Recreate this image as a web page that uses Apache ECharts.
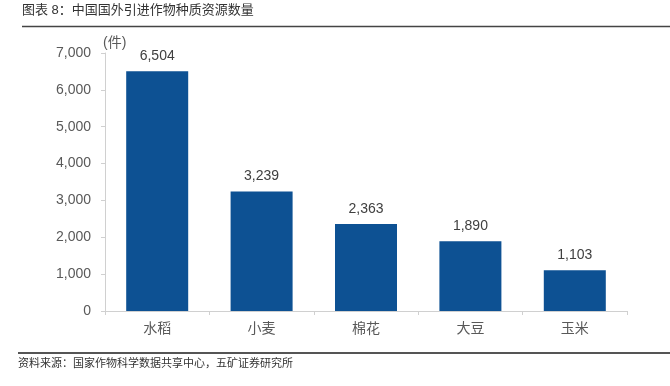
<!DOCTYPE html>
<html><head><meta charset="utf-8">
<script src="https://cdn.jsdelivr.net/npm/echarts@6/dist/echarts.min.js"></script>
<style>html,body{margin:0;padding:0;background:#fff}#c{width:670px;height:386px}</style>
</head><body><div id="c"></div>
<script>
const categories = ['水稻','小麦','棉花','大豆','玉米'];
const values = [6504, 3239, 2363, 1890, 1103];
const yTicks = {min:0, max:7000, interval:1000};
const titleText = '图表 8：中国国外引进作物种质资源数量';
const sourceText = '资料来源：国家作物科学数据共享中心，五矿证券研究所';
const unitText = '(件)';

const fmt = v => String(v).replace(/\B(?=(\d{3})+(?!\d))/g, ',');
const chart = echarts.init(document.getElementById('c'), null, {renderer:'canvas'});
const ff = '"Liberation Sans", "Noto Sans CJK SC", sans-serif';
chart.setOption({
  animation:false,
  textStyle:{fontFamily:ff},
  grid:{left:105, right:43, top:53, bottom:75},
  graphic:[
    {type:'text', left:22, top:4, style:{text:titleText, fontSize:13, fill:'#333', fontFamily:ff}},
    {type:'line', shape:{x1:22,y1:26.5,x2:670,y2:26.5}, style:{stroke:'#444', lineWidth:1.5}},
    {type:'line', shape:{x1:18,y1:353,x2:670,y2:353}, style:{stroke:'#555', lineWidth:2}},
    {type:'text', left:18, top:358, style:{text:sourceText, fontSize:11, fill:'#333', fontFamily:ff}},
    {type:'text', left:103, top:36, style:{text:unitText, fontSize:14, fill:'#595959', fontFamily:ff}}
  ],
  xAxis:{type:'category', data:categories,
    axisLine:{lineStyle:{color:'#d0d0d0'}},
    axisTick:{show:true, length:4, lineStyle:{color:'#d0d0d0'}},
    axisLabel:{color:'#595959', fontSize:14, margin:11}},
  yAxis:{type:'value', min:yTicks.min, max:yTicks.max, interval:yTicks.interval,
    splitLine:{show:false},
    axisLine:{show:true, lineStyle:{color:'#d0d0d0'}},
    axisTick:{show:true, length:4, lineStyle:{color:'#d0d0d0'}},
    axisLabel:{color:'#595959', fontSize:14, margin:14, formatter:v=>fmt(v)}},
  series:[{type:'bar', data:values, barWidth:62,
    itemStyle:{color:'#0d5193'},
    label:{show:true, position:'top', distance:8, color:'#404040', fontSize:14, formatter:p=>fmt(p.value)}}]
});
</script></body></html>
